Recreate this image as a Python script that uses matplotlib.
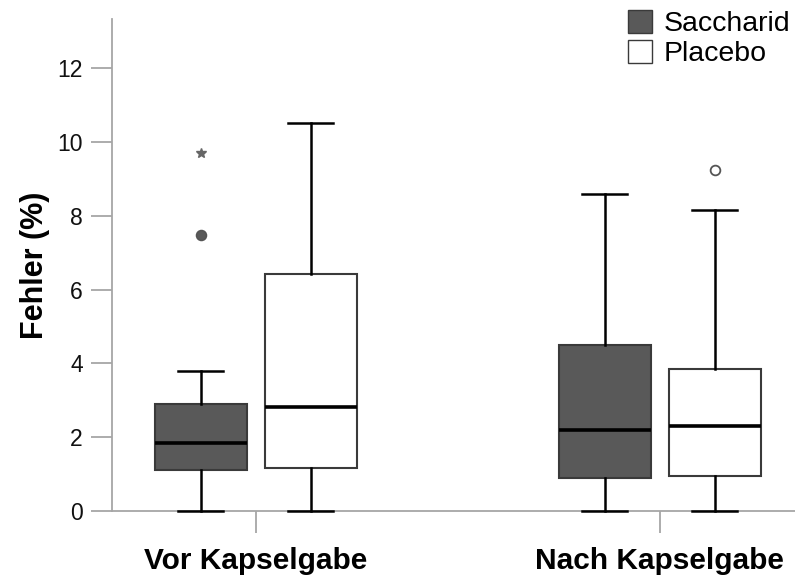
import matplotlib
matplotlib.use("Agg")
import matplotlib.pyplot as plt
from matplotlib.patches import Patch

plt.rcParams["font.family"] = ["Liberation Sans", "DejaVu Sans"]

GROUPS = ["Vor Kapselgabe", "Nach Kapselgabe"]
SERIES = ["Saccharid", "Placebo"]

# box statistics per group (Vor, Nach)
SAC_LO = [0.0, 0.0]
SAC_Q1 = [1.12, 0.89]
SAC_MED = [1.83, 2.19]
SAC_Q3 = [2.90, 4.50]
SAC_HI = [3.78, 8.60]
SAC_OUT = [[7.48], []]
SAC_EXT = [[9.71], []]

PLA_LO = [0.0, 0.0]
PLA_Q1 = [1.17, 0.96]
PLA_MED = [2.82, 2.30]
PLA_Q3 = [6.42, 3.86]
PLA_HI = [10.51, 8.16]
PLA_OUT = [[], [9.23]]
PLA_EXT = [[], []]

DARK = "#595959"
EDGE = "#3a3a3a"
AXC = "#a6a6a6"


def stats(lo, q1, med, q3, hi, out):
    return [dict(whislo=lo[i], q1=q1[i], med=med[i], q3=q3[i], whishi=hi[i],
                 fliers=out[i]) for i in range(len(lo))]


fig = plt.figure(figsize=(7.95, 5.83), dpi=100)
ax = fig.add_axes([112 / 795, 72 / 583, 1 - 112 / 795, (511 - 19) / 583])

off, width = 0.136, 0.228
series = [
    (stats(SAC_LO, SAC_Q1, SAC_MED, SAC_Q3, SAC_HI, SAC_OUT), SAC_EXT, -off, DARK),
    (stats(PLA_LO, PLA_Q1, PLA_MED, PLA_Q3, PLA_HI, PLA_OUT), PLA_EXT, off, "white"),
]
for st, ext, dx, fc in series:
    pos = [i + dx for i in range(len(GROUPS))]
    art = ax.bxp(st, positions=pos, widths=width, patch_artist=True, showfliers=True,
                 boxprops=dict(facecolor=fc, edgecolor=EDGE, linewidth=1.5),
                 medianprops=dict(color="black", linewidth=2.6),
                 whiskerprops=dict(color="black", linewidth=1.8),
                 capprops=dict(color="black", linewidth=1.8),
                 capwidths=0.111,
                 flierprops=dict(marker="o", markersize=7,
                                 markerfacecolor=(DARK if fc == DARK else "white"),
                                 markeredgecolor="#555555", markeredgewidth=1.3))
    for key in ("whiskers", "caps", "medians", "boxes"):
        for a in art[key]:
            a.set_zorder(3)
            a.set_clip_on(False)
    for p, e in zip(pos, ext):
        if e:
            ax.plot([p] * len(e), e, ls="none", marker="*", markersize=7,
                    color="#666666")

ax.set_xlim(-0.356, 1.335)
ax.set_ylim(0, 13.33)
ax.set_xticks(range(len(GROUPS)))
ax.set_xticklabels(GROUPS, fontsize=21.5, fontweight="bold")
ax.set_yticks([0, 2, 4, 6, 8, 10, 12])
ax.tick_params(axis="y", length=15, width=1.3, color=AXC, labelsize=16.5, pad=6,
               labelcolor="#111111")
ax.tick_params(axis="x", length=16, width=1.3, color=AXC, pad=10)
for s in ("top", "right"):
    ax.spines[s].set_visible(False)
for s in ("left", "bottom"):
    ax.spines[s].set_color(AXC)
    ax.spines[s].set_linewidth(1.3)
ax.set_ylabel("Fehler (%)", fontsize=22, fontweight="bold", labelpad=5)

handles = [Patch(facecolor=DARK, edgecolor=EDGE, label=SERIES[0]),
           Patch(facecolor="white", edgecolor=EDGE, label=SERIES[1])]
fig.legend(handles=handles, loc="upper right", bbox_to_anchor=(1.014, 1.01),
           frameon=False, fontsize=20.5, handlelength=0.85, handleheight=0.85,
           handletextpad=0.4, labelspacing=0.1, borderaxespad=0.15)

fig.savefig("out.png", dpi=100)
